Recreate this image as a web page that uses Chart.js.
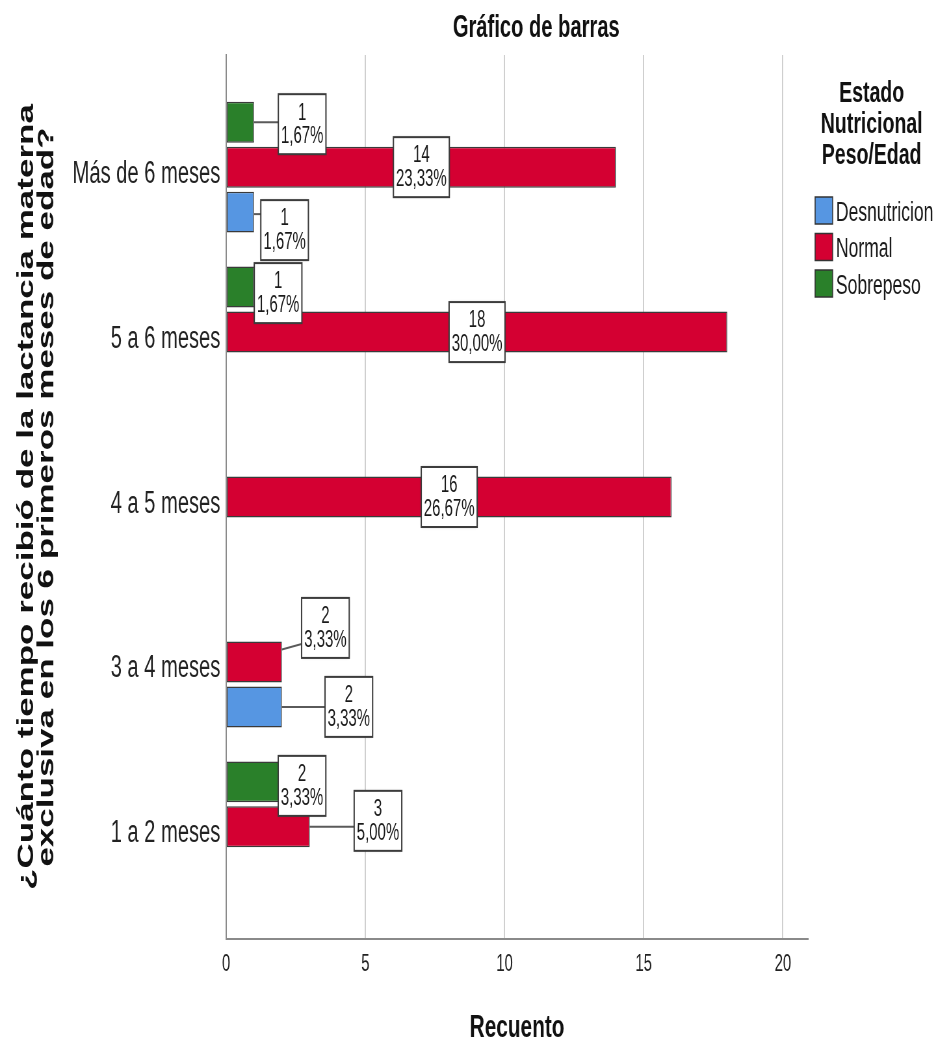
<!DOCTYPE html>
<html lang="es">
<head>
<meta charset="utf-8">
<title>Gráfico de barras</title>
<script src="https://cdn.jsdelivr.net/npm/chart.js@4.4.1/dist/chart.umd.min.js"></script>
<style>
  html, body { margin: 0; padding: 0; background: #ffffff; overflow: hidden; }
  #wrap { position: relative; width: 934px; height: 1046px; overflow: hidden; }
  /* the chart is laid out on a wide canvas and compressed horizontally */
  #chart { position: absolute; left: 0; top: 0; transform: scaleX(0.65); transform-origin: 0 0; }
</style>
</head>
<body>
<div id="wrap"><canvas id="chart" width="1437" height="1046"></canvas></div>
<script>
// ---- data ----
const categories = ['Más de 6 meses', '5 a 6 meses', '4 a 5 meses', '3 a 4 meses', '1 a 2 meses'];
const sobrepeso    = [1, 1, null, null, 2];
const normal       = [14, 18, 16, 2, 3];
const desnutricion = [1, null, null, 2, null];
const xTicks = [0, 5, 10, 15, 20];
const legendOrder = ['Desnutricion', 'Normal', 'Sobrepeso'];

const chartTitle = 'Gráfico de barras';
const xTitle = 'Recuento';
const yTitle = ['¿Cuánto tiempo recibió de la lactancia materna', 'exclusiva en los 6 primeros meses de edad?'];
const legendTitle = ['Estado', 'Nutricional', 'Peso/Edad'];

// ---- styling ----
const FONT = "'Liberation Sans', Arial, sans-serif";
const colors = { Desnutricion: '#5696e2', Normal: '#d40032', Sobrepeso: '#2a802a' };

const total = [...sobrepeso, ...normal, ...desnutricion].reduce((a, v) => a + (v || 0), 0);
const pctText = v => (v / total * 100).toFixed(2).replace('.', ',') + '%';

// where the small-bar callouts sit, relative to the end of their bar [dx, dy]
const labelPlacement = {
  Sobrepeso:    [[74, 2], [37, 6], null, null, [31, 4]],
  Normal:       [null, null, null, [67, -34], [105, -6]],
  Desnutricion: [[47, 18], null, null, [103, 0], null]
};

const series = [
  { name: 'Sobrepeso', values: sobrepeso },
  { name: 'Normal', values: normal },
  { name: 'Desnutricion', values: desnutricion }
];

const datasets = series.map(s => ({
  label: s.name,
  data: s.values.map((v, i) => (v == null ? null : { x: v, y: i })).filter(Boolean),
  backgroundColor: colors[s.name],
  borderColor: '#3a3a3a',
  borderWidth: 1.5,
  borderSkipped: false,
  categoryPercentage: 0.818,
  barPercentage: 0.911
}));

// title, legend block and value callouts
const decorations = {
  id: 'decorations',
  afterDatasetsDraw(chart) {
    const ctx = chart.ctx;
    chart.data.datasets.forEach((ds, di) => {
      const meta = chart.getDatasetMeta(di);
      meta.data.forEach((bar, j) => {
        const raw = ds.data[j];
        const value = raw.x;
        const cat = raw.y;
        const p = bar.getProps(['x', 'y', 'base', 'height'], true);
        const lines = [String(value), pctText(value)];
        ctx.save();
        ctx.font = `23px ${FONT}`;
        const tw = Math.max(...lines.map(t => ctx.measureText(t).width));
        const bw = tw + 8, bh = 60;
        const place = labelPlacement[ds.label][cat];
        let cx, cy;
        if (!place) { cx = (p.x + p.base) / 2; cy = p.y; }
        else { cx = p.x + place[0]; cy = p.y + place[1]; }
        const bl = cx - bw / 2, bt = cy - bh / 2;
        if (bl > p.x + 3) {
          const yE = Math.min(Math.max(p.y, bt + 14), bt + bh - 14);
          const yS = Math.min(Math.max(yE, p.y - p.height / 2 + 8), p.y + p.height / 2 - 8);
          ctx.strokeStyle = '#5a5a5a';
          ctx.lineWidth = 2;
          ctx.beginPath();
          ctx.moveTo(p.x, yS);
          ctx.lineTo(bl, yE);
          ctx.stroke();
        }
        ctx.shadowColor = 'rgba(0,0,0,0.35)';
        ctx.shadowBlur = 3;
        ctx.fillStyle = '#ffffff';
        ctx.fillRect(bl, bt, bw, bh);
        ctx.shadowColor = 'transparent';
        ctx.strokeStyle = '#3c3c3c';
        ctx.lineWidth = 2;
        ctx.strokeRect(bl, bt, bw, bh);
        ctx.fillStyle = '#1a1a1a';
        ctx.textAlign = 'center';
        ctx.textBaseline = 'middle';
        ctx.fillText(lines[0], cx, cy - 11);
        ctx.fillText(lines[1], cx, cy + 12.5);
        ctx.restore();
      });
    });
  },
  afterDraw(chart) {
    const ctx = chart.ctx;
    ctx.save();
    // chart title
    ctx.fillStyle = '#111111';
    ctx.textAlign = 'center';
    ctx.textBaseline = 'middle';
    ctx.font = `bold 31px ${FONT}`;
    ctx.fillText(chartTitle, 825, 28);
    // legend title
    ctx.font = `bold 30px ${FONT}`;
    legendTitle.forEach((t, i) => ctx.fillText(t, 1341, 94 + i * 31));
    // legend entries
    ctx.textAlign = 'left';
    ctx.font = `27px ${FONT}`;
    legendOrder.forEach((name, i) => {
      const cy = 210.5 + i * 36.5;
      ctx.fillStyle = colors[name];
      ctx.fillRect(1254, cy - 13.5, 27, 27);
      ctx.strokeStyle = '#333333';
      ctx.lineWidth = 1.5;
      ctx.strokeRect(1254, cy - 13.5, 27, 27);
      ctx.fillStyle = '#1a1a1a';
      ctx.fillText(name, 1286, cy + 3);
    });
    ctx.restore();
  }
};

new Chart(document.getElementById('chart'), {
  type: 'bar',
  data: { datasets },
  plugins: [decorations],
  options: {
    responsive: false,
    animation: false,
    indexAxis: 'y',
    layout: { padding: { top: 55, right: 194, bottom: 0, left: 0 } },
    plugins: {
      legend: { display: false },
      tooltip: { enabled: false },
      title: { display: false }
    },
    scales: {
      x: {
        type: 'linear',
        position: 'bottom',
        min: 0,
        max: 20.9,
        afterBuildTicks: s => { s.ticks = xTicks.map(v => ({ value: v })); },
        afterFit: s => { s.height = 107; },
        grid: {
          drawTicks: false,
          lineWidth: 2,
          color: c => (c.tick && c.tick.value === 0 ? 'rgba(0,0,0,0)' : '#cfcfcf')
        },
        border: { display: true, color: '#8a8a8a', width: 2 },
        ticks: { padding: 12, color: '#222222', font: { family: FONT, size: 23 } },
        title: {
          display: true, text: xTitle, color: '#111111',
          font: { family: FONT, size: 32, weight: 'bold', lineHeight: 1 },
          padding: { top: 0, bottom: 2 }
        }
      },
      y: {
        type: 'linear',
        position: 'left',
        min: -0.68,
        max: 4.68,
        reverse: true,
        offset: false,
        afterBuildTicks: s => { s.ticks = categories.map((c, i) => ({ value: i })); },
        afterFit: s => { s.width = 348; },
        grid: { display: true, offset: false, drawTicks: false, color: 'rgba(0,0,0,0)' },
        border: { display: true, color: '#8a8a8a', width: 2 },
        ticks: {
          padding: 9, labelOffset: 7, autoSkip: false, color: '#222222',
          font: { family: FONT, size: 31 },
          callback: v => (categories[v] !== undefined ? categories[v] : '')
        },
        title: {
          display: true, text: yTitle, color: '#111111',
          font: { family: FONT, size: 35, weight: 'bold', lineHeight: 0.88 },
          padding: { top: 26, bottom: 0 }
        }
      }
    }
  }
});
</script>
</body>
</html>
